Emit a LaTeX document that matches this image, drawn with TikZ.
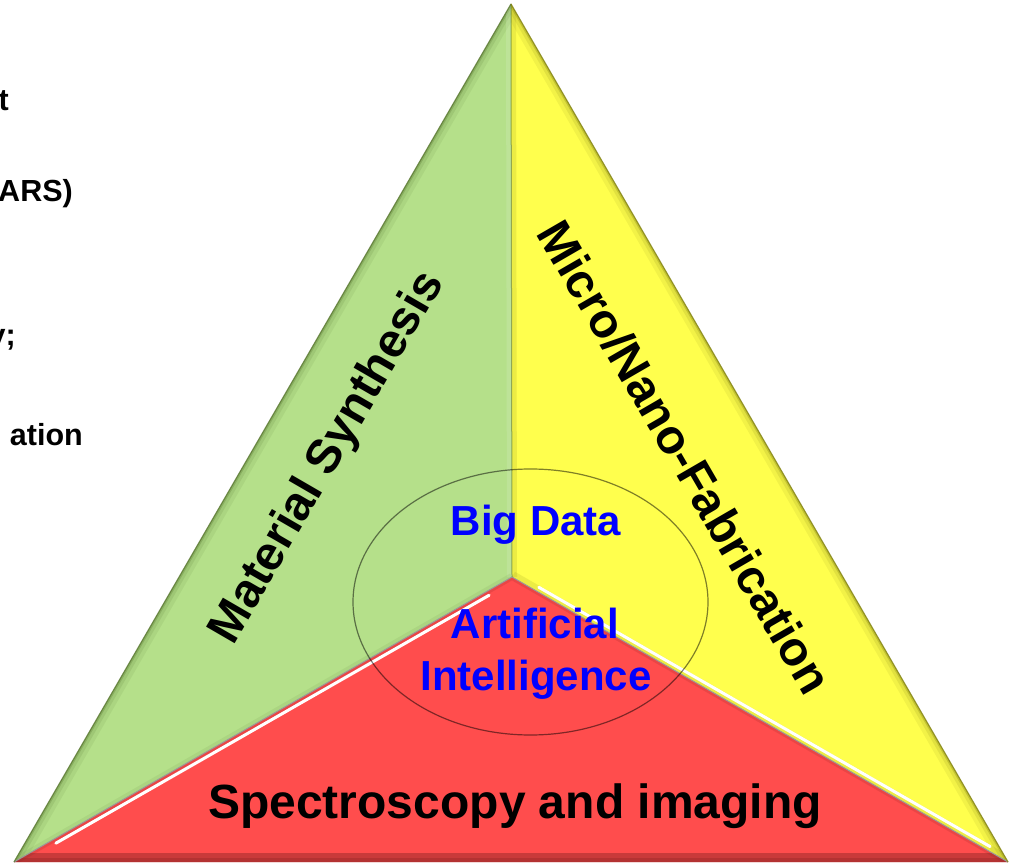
\documentclass[tikz,border=0pt]{standalone}
\usepackage{fontspec}
\setmainfont{Liberation Sans}
\usetikzlibrary{calc}
\definecolor{cgreen}{RGB}{181,224,138}
\definecolor{dgreen}{RGB}{90,120,50}
\definecolor{cyellow}{RGB}{255,255,77}
\definecolor{dyellow}{RGB}{130,130,20}
\definecolor{cred}{RGB}{255,77,77}
\definecolor{dred}{RGB}{120,30,30}
\begin{document}
\begin{tikzpicture}[x=1pt,y=-1pt,
  lbl/.style={font=\fontsize{48}{56}\selectfont\bfseries, text=black, inner sep=0pt},
  blu/.style={font=\fontsize{42}{50}\selectfont\bfseries, text=blue, inner sep=0pt},
  side/.style={font=\fontsize{30.5}{36}\selectfont\bfseries, text=black, inner sep=0pt, anchor=base east}]
\useasboundingbox (0,0) rectangle (1013,864);
\clip (0,0) rectangle (1013,864);
\coordinate (A) at (511,4);
\coordinate (L) at (14,862);
\coordinate (R) at (1008,862);
\coordinate (C) at (512,577);
% fills
\fill[cgreen] (A) -- (C) -- (L) -- cycle;
\fill[cyellow] (A) -- (R) -- (C) -- cycle;
\fill[cred] (C) -- (R) -- (L) -- cycle;
% green bevel
\begin{scope}
\clip (A) -- (C) -- (L) -- cycle;
\draw[line width=18, dgreen, opacity=.10] (A) -- (L);
\draw[line width=10, dgreen, opacity=.15] (A) -- (L);
\draw[line width=4, dgreen, opacity=.30] (A) -- (L);
\draw[line width=10, white, opacity=.12] (A) -- (C);
\draw[line width=8, dgreen, opacity=.10] (C) -- (L);
\end{scope}
% yellow bevel
\begin{scope}
\clip (A) -- (R) -- (C) -- cycle;
\draw[line width=18, dyellow, opacity=.10] (A) -- (R);
\draw[line width=10, dyellow, opacity=.15] (A) -- (R);
\draw[line width=4, dyellow, opacity=.30] (A) -- (R);
\draw[line width=10, dyellow, opacity=.15] (A) -- (C);
\draw[line width=12, dyellow, opacity=.15] (C) -- (R);
\draw[white, line width=3, line cap=round]
  ([shift={(2,-4)}]$(C)!0.05!(R)$) -- ([shift={(2,-4)}]$(C)!0.96!(R)$);
\end{scope}
% red bevel
\begin{scope}
\clip (C) -- (R) -- (L) -- cycle;
\draw[line width=18, dred, opacity=.40] (L) -- (R);
\draw[line width=8, dred, opacity=.25] (L) -- (R);
\draw[line width=6, dred, opacity=.15] (L) -- (C) -- (R);
\draw[white, line width=3, line cap=round]
  ([shift={(2,4)}]$(C)!0.05!(L)$) -- ([shift={(2,4)}]$(C)!0.92!(L)$);
\end{scope}
% edges
\draw[gray!80, line width=1] (L) -- (C) -- (R);
\draw[dgreen, opacity=.6, line width=1] (A) -- (C);
\draw[dgreen, opacity=.8, line width=1.2] (L) -- (A);
\draw[dyellow, opacity=.8, line width=1.2] (A) -- (R);
% ellipse
\draw[black, opacity=.5, line width=1.2] (530.5,602) ellipse [x radius=177.5, y radius=133];
% labels
\node[lbl, rotate=59.9] (ms) at (328,458) {Material Synthesis};
\node[lbl, rotate=-59.9] (mn) at (685,457) {Micro/Nano-Fabrication};
\node[lbl, anchor=base] (sp) at (515,818) {Spectroscopy and imaging};
\node[blu, anchor=base] (bd) at (536,535) {Big Data};
\node[blu, anchor=base] (ai1) at (535,638) {Artificial};
\node[blu, anchor=base] (ai2) at (536,690) {Intelligence};
% left clipped text
\node[side] (t1) at (9,111) {t};
\node[side] (t2) at (73,201) {ARS)};
\node[side] (t3) at (16,345) {y;};
\node[side] (t4) at (83,445) {ation};
\end{tikzpicture}
\end{document}
